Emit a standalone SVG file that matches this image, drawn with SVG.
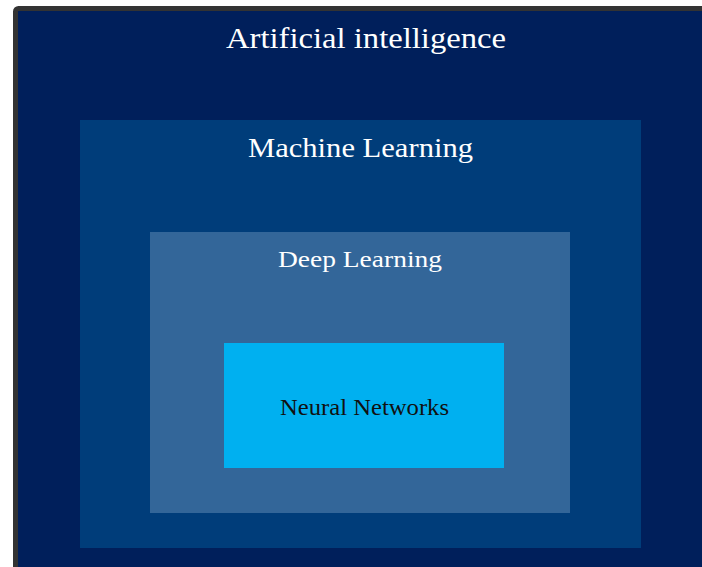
<svg xmlns="http://www.w3.org/2000/svg" width="702" height="567" viewBox="0 0 702 567">
<style>
.t{font-family:"Liberation Serif","Times New Roman",serif;text-anchor:middle;fill:#ffffff}
.d{fill:#111111}
</style>
<rect width="702" height="567" fill="#ffffff"/>
<g id="ai">
<rect x="15.5" y="8.5" width="700" height="570" rx="3" fill="#001f5b" stroke="#333333" stroke-width="5"/>
<text class="t" x="366" y="48" font-size="30" textLength="280" lengthAdjust="spacingAndGlyphs">Artificial intelligence</text>
</g>
<g id="ml">
<rect x="80" y="120" width="561" height="428" fill="#003d7a"/>
<text class="t" x="360.5" y="157" font-size="27" textLength="225" lengthAdjust="spacingAndGlyphs">Machine Learning</text>
</g>
<g id="dl">
<rect x="150" y="232" width="420" height="281" fill="#336699"/>
<text class="t" x="360" y="267" font-size="24" textLength="164" lengthAdjust="spacingAndGlyphs">Deep Learning</text>
</g>
<g id="nn">
<rect x="224" y="343" width="280" height="125" fill="#00b0f0"/>
<text class="t d" x="364.5" y="415" font-size="23" textLength="169" lengthAdjust="spacingAndGlyphs">Neural Networks</text>
</g>
<g id="connectors"></g>
</svg>
